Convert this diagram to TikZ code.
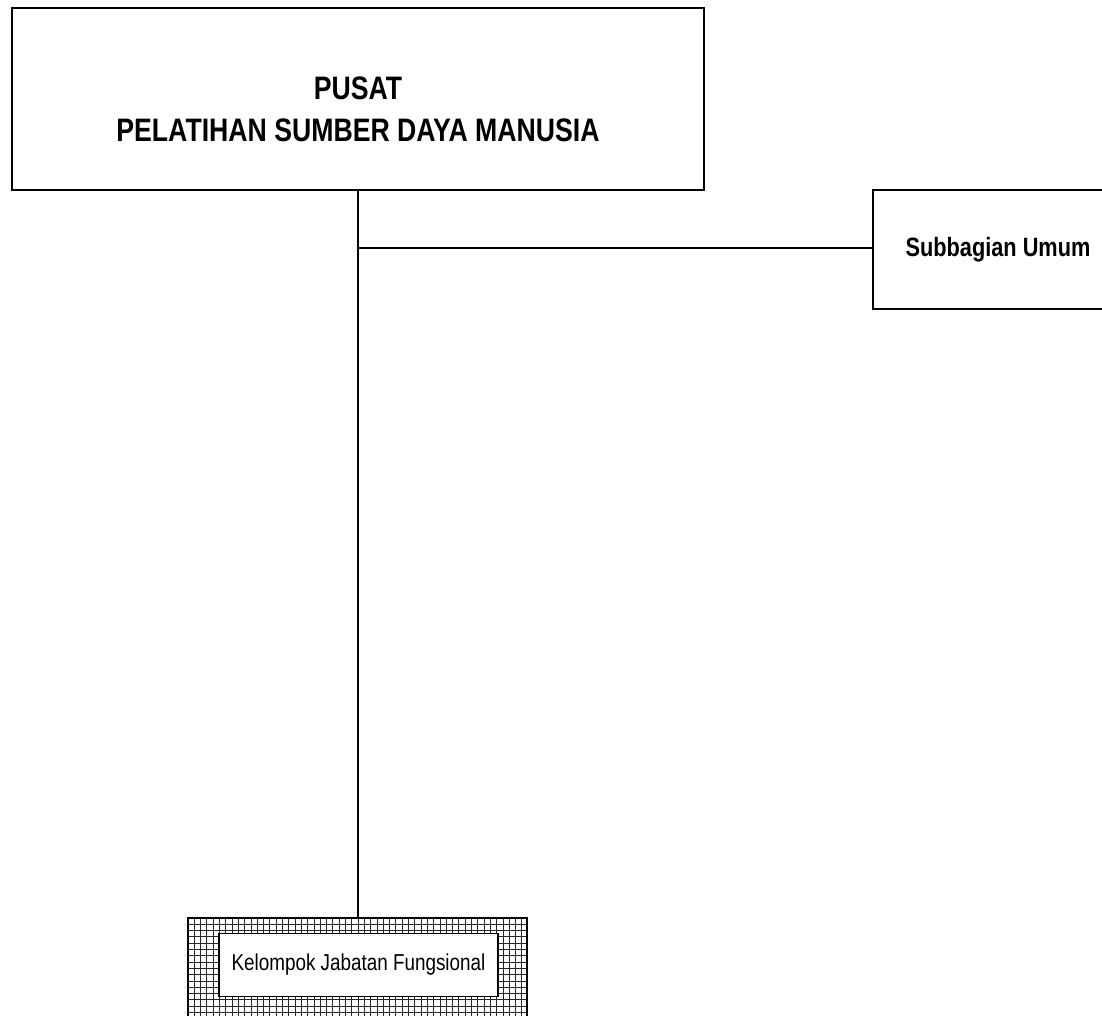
\documentclass[tikz,border=0pt]{standalone}
\usepackage{fontspec}
\setmainfont{Liberation Sans}
\newfontfamily\narrowfont[FakeStretch=0.82]{Liberation Sans}
\begin{document}
\begin{tikzpicture}[x=1pt,y=-1pt,
  box/.style={draw=black, line width=2pt, fill=white, inner sep=0pt, align=center},
  conn/.style={draw=black, line width=1.4pt},
  gridline/.style={line width=1pt, black!85}]
\useasboundingbox (0,0) rectangle (1102,1016);
\fill[white] (0,0) rectangle (1102,1016);
% top box
\node[box, minimum width=692pt, minimum height=182pt] (top) at (358,99) {};
\node[align=center, inner sep=0pt,
  font=\narrowfont\fontsize{32.5pt}{42pt}\selectfont\bfseries] (toptext) at (358,109)
  {PUSAT\\ PELATIHAN SUMBER DAYA MANUSIA};
% right box
\node[box, minimum width=250pt, minimum height=119pt,
  font=\narrowfont\fontsize{26.5pt}{30pt}\selectfont\bfseries] (umum) at (998,249.5)
  {Subbagian Umum};
% bottom hatched box
\coordinate (kjfO1) at (188,918);
\coordinate (kjfO2) at (527,1030);
\begin{scope}
  \clip (kjfO1) rectangle (kjfO2);
  \foreach \i in {0,...,55} {
    \draw[gridline] (188+6.3*\i,910) -- (188+6.3*\i,1040);
  }
  \foreach \j in {0,...,20} {
    \draw[gridline] (180,918+6.3*\j) -- (540,918+6.3*\j);
  }
\end{scope}
\draw[line width=2.2pt] (kjfO1) rectangle (kjfO2);
\node[box, line width=1.6pt, minimum width=279pt, minimum height=63pt,
  font=\narrowfont\fontsize{23pt}{26pt}\selectfont] (kjf) at (358.5,965)
  {Kelompok Jabatan Fungsional};
\coordinate (kjftop) at (358,918);
\coordinate (jn) at (358,248);
% connectors
\draw[conn, line width=1.1pt] (top.south -| jn) -- (kjftop);
\draw[conn, line width=1.8pt] (jn) -- (umum.west |- jn);
\end{tikzpicture}
\end{document}
